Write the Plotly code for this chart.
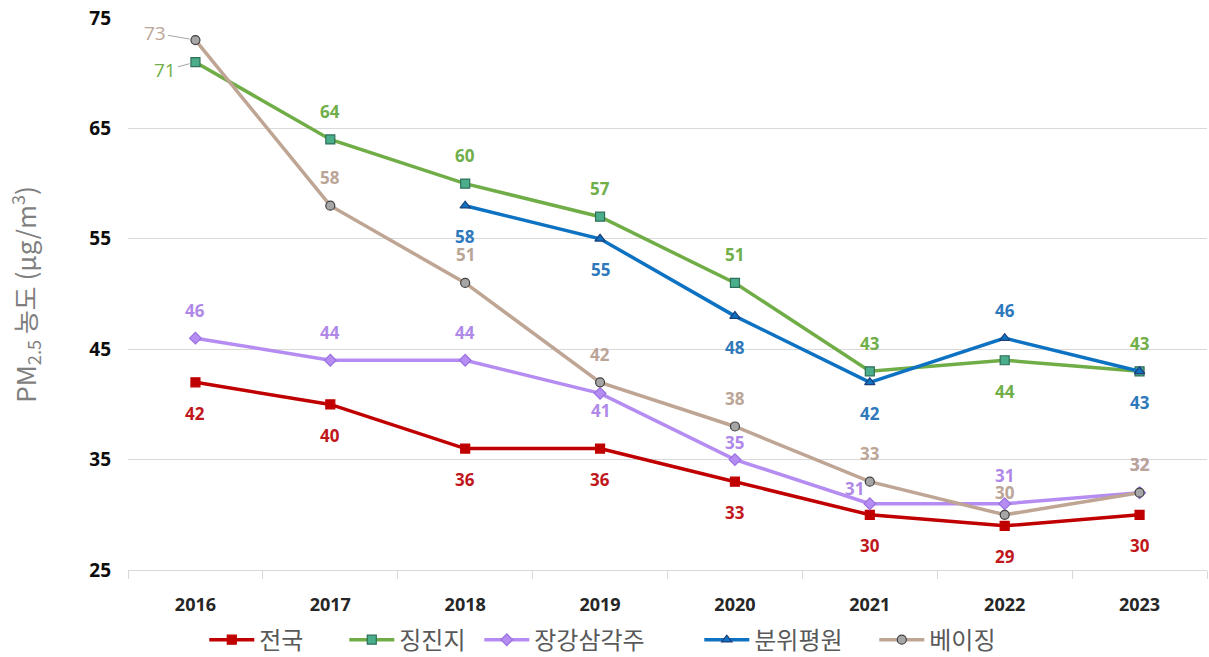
import plotly.graph_objects as go

years = ["2016", "2017", "2018", "2019", "2020", "2021", "2022", "2023"]
national = [42, 40, 36, 36, 33, 30, 29, 30]
jingjinji = [71, 64, 60, 57, 51, 43, 44, 43]
yangtze = [46, 44, 44, 41, 35, 31, 31, 32]
fenwei = [None, None, 58, 55, 48, 42, 46, 43]
beijing = [73, 58, 51, 42, 38, 33, 30, 32]

series_names = ["전국", "징진지", "장강삼각주", "분위평원", "베이징"]
y_ticks = [25, 35, 45, 55, 65, 75]

# label placement codes per point (style)
pos_national = ["b"] * 8
pos_jingjinji = ["leadlow", "a", "a", "a", "a", "a", "b", "a"]
pos_yangtze = ["a", "a", "a", "bs", "as2", "al", "a", "a"]
pos_fenwei = [None, None, "b", "b", "b", "b", "a", "b"]
pos_beijing = ["lead", "a", "a", "a", "a", "a", "as", "a"]

styles = [
    dict(line="#C00000", mfill="#C00000", mline="#C00000", symbol="square", text="#C0171C", data=national, pos=pos_national, lw=80),
    dict(line="#70AD47", mfill="#4AAE8A", mline="#2F6E5A", symbol="square", text="#6FAE48", data=jingjinji, pos=pos_jingjinji, lw=75),
    dict(line="#B48CF2", mfill="#B48CF2", mline="#9A70E0", symbol="diamond", text="#B089E8", data=yangtze, pos=pos_yangtze, lw=160),
    dict(line="#0E72C2", mfill="#0E72C2", mline="#1F3F7A", symbol="triangle-up", text="#2E78BC", data=fenwei, pos=pos_fenwei, lw=115),
    dict(line="#BFA594", mfill="#A6A6A6", mline="#404040", symbol="circle", text="#BBA597", data=beijing, pos=pos_beijing, lw=95),
]

fig = go.Figure()
annotations = []
for name, s in zip(series_names, styles):
    fig.add_trace(go.Scatter(
        x=years, y=s["data"], name=name, mode="lines+markers",
        line=dict(color=s["line"], width=3.5),
        marker=dict(symbol=s["symbol"], size=9,
                    color=s["mfill"], line=dict(color=s["mline"], width=1.2)),
        connectgaps=False, legendwidth=s["lw"],
    ))
    for i, (yv, p) in enumerate(zip(s["data"], s["pos"])):
        if yv is None:
            continue
        ann = dict(x=i, y=yv, xref="x", yref="y", text=str(yv), showarrow=False,
                   font=dict(size=17, color=s["text"], family="Open Sans, Noto Sans CJK KR, sans-serif", weight="bold"))
        if p == "b":
            ann.update(yshift=-31)
        elif p == "a":
            ann.update(yshift=28)
        elif p == "as":
            ann.update(yshift=22)
        elif p == "as2":
            ann.update(yshift=17)
        elif p == "bs":
            ann.update(yshift=-17)
        elif p == "al":
            ann.update(yshift=15, xshift=-15)
        elif p in ("lead", "leadlow"):
            ann.update(showarrow=True, arrowhead=0, arrowwidth=1, arrowcolor="#A6A6A6",
                       ax=-40 if p == "lead" else -30, ay=-7 if p == "lead" else 8,
                       standoff=6, xanchor="center")
            ann["font"]["weight"] = "normal"
            ann["font"]["size"] = 19
        annotations.append(ann)

annotations.append(dict(
    xref="paper", yref="paper", x=-0.117, y=0.5, textangle=-90, showarrow=False,
    text="PM<sub>2.5</sub> 농도 (μg/m<sup>3</sup>)",
    font=dict(size=26, color="#7F7F7F", family="Noto Sans CJK KR, sans-serif"),
))

fig.update_layout(
    width=1209, height=657,
    margin=dict(l=128, r=2, t=18, b=87, autoexpand=False),
    paper_bgcolor="white", plot_bgcolor="white",
    font=dict(family="Noto Sans CJK KR, sans-serif"),
    annotations=annotations,
    showlegend=True,
    legend=dict(orientation="h", x=0.453, xanchor="center", y=-0.127, yanchor="middle",
                font=dict(size=24, color="#595959", family="Noto Sans CJK KR, sans-serif"),
                itemwidth=45, tracegroupgap=0),
    xaxis=dict(type="category", showgrid=False, showline=True, linecolor="#D9D9D9", linewidth=1,
               ticks="outside", tickson="boundaries", ticklen=8, tickcolor="#D9D9D9",
               ticklabelstandoff=18, automargin=False,
               tickfont=dict(size=18, color="#262626", family="Open Sans, sans-serif", weight="bold"),
               range=[-0.5, 7.5]),
    yaxis=dict(range=[25, 75], tickvals=y_ticks, showgrid=True, gridcolor="#D9D9D9", gridwidth=1,
               zeroline=False, showline=False, ticks="", ticklabelstandoff=16, automargin=False,
               tickfont=dict(size=19, color="#0D0D0D", family="Open Sans, sans-serif", weight="bold")),
)

fig.write_html("out.html")
